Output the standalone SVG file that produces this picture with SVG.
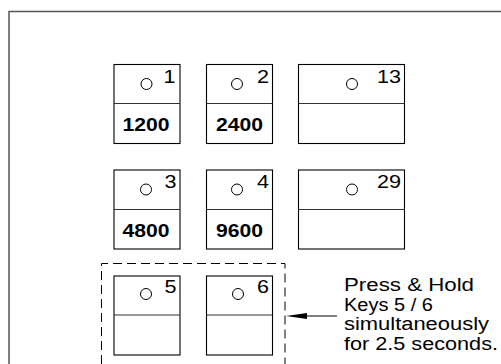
<svg xmlns="http://www.w3.org/2000/svg" width="501" height="364" viewBox="0 0 501 364">
<style>
.key{fill:#fff;stroke:#000;stroke-width:1.1}
.div{stroke:#333;stroke-width:1.1}
.led{fill:#fff;stroke:#000;stroke-width:1}
.num{font-family:"Liberation Sans",Arial,sans-serif;font-size:18.5px;fill:#000;text-anchor:end}
.lab{font-family:"Liberation Sans",Arial,sans-serif;font-size:18px;font-weight:bold;fill:#000;text-anchor:middle}
.note{font-family:"Liberation Sans",Arial,sans-serif;font-size:18.8px;fill:#000}
</style>
<rect width="501" height="364" fill="#fff"/>
<path d="M9,364 V11.5 H501" fill="none" stroke="#555" stroke-width="1.5"/>
<g id="key1">
<rect class="key" x="114" y="64.5" width="66" height="79"/>
<line class="div" x1="114" y1="103.5" x2="180" y2="103.5"/>
<circle class="led" cx="146.5" cy="84" r="5.5"/>
<text class="num" x="175.5" y="82.5" textLength="12" lengthAdjust="spacingAndGlyphs">1</text>
<text class="lab" x="146" y="131" textLength="47" lengthAdjust="spacingAndGlyphs">1200</text>
</g>
<g id="key2">
<rect class="key" x="206.5" y="64.5" width="66" height="79"/>
<line class="div" x1="206.5" y1="103.5" x2="272.5" y2="103.5"/>
<circle class="led" cx="237" cy="84" r="5.5"/>
<text class="num" x="269" y="82.5" textLength="12" lengthAdjust="spacingAndGlyphs">2</text>
<text class="lab" x="239.5" y="131" textLength="47" lengthAdjust="spacingAndGlyphs">2400</text>
</g>
<g id="key13">
<rect class="key" x="298.5" y="64.5" width="106" height="79"/>
<line class="div" x1="298.5" y1="103.5" x2="404.5" y2="103.5"/>
<circle class="led" cx="352" cy="84" r="5.5"/>
<text class="num" x="401" y="82.5" textLength="24" lengthAdjust="spacingAndGlyphs">13</text>
</g>
<g id="key3">
<rect class="key" x="114" y="170" width="66" height="79"/>
<line class="div" x1="114" y1="209.5" x2="180" y2="209.5"/>
<circle class="led" cx="146" cy="189.5" r="5.5"/>
<text class="num" x="176.5" y="188" textLength="12" lengthAdjust="spacingAndGlyphs">3</text>
<text class="lab" x="146" y="237" textLength="47" lengthAdjust="spacingAndGlyphs">4800</text>
</g>
<g id="key4">
<rect class="key" x="206.5" y="170" width="66" height="79"/>
<line class="div" x1="206.5" y1="209.5" x2="272.5" y2="209.5"/>
<circle class="led" cx="237" cy="189.5" r="5.5"/>
<text class="num" x="269" y="188" textLength="12" lengthAdjust="spacingAndGlyphs">4</text>
<text class="lab" x="239.5" y="237" textLength="47" lengthAdjust="spacingAndGlyphs">9600</text>
</g>
<g id="key29">
<rect class="key" x="298.5" y="170" width="106" height="79"/>
<line class="div" x1="298.5" y1="209.5" x2="404.5" y2="209.5"/>
<circle class="led" cx="352" cy="189.5" r="5.5"/>
<text class="num" x="401" y="188" textLength="24" lengthAdjust="spacingAndGlyphs">29</text>
</g>
<g id="key5">
<rect class="key" x="114" y="276" width="66" height="79"/>
<line class="div" x1="114" y1="315" x2="180" y2="315"/>
<circle class="led" cx="146" cy="294" r="5.5"/>
<text class="num" x="176.5" y="293" textLength="12" lengthAdjust="spacingAndGlyphs">5</text>
</g>
<g id="key6">
<rect class="key" x="206.5" y="276" width="66" height="79"/>
<line class="div" x1="206.5" y1="315" x2="272.5" y2="315"/>
<circle class="led" cx="238" cy="294" r="5.5"/>
<text class="num" x="269" y="293" textLength="12" lengthAdjust="spacingAndGlyphs">6</text>
</g>
<g id="group56">
<path d="M101.5,364 V263.5 H285 V364" fill="none" stroke="#000" stroke-width="1" stroke-dasharray="9 5"/>
</g>
<g id="connectors">
<line x1="337" y1="316" x2="300" y2="316" stroke="#000" stroke-width="1.1"/>
<polygon points="286,316 307,313 307,319" fill="#000"/>
</g>
<g id="note">
<text class="note" x="344" y="291" textLength="130" lengthAdjust="spacingAndGlyphs">Press &amp; Hold</text>
<text class="note" x="344" y="310.5" textLength="89" lengthAdjust="spacingAndGlyphs">Keys 5 / 6</text>
<text class="note" x="344" y="330" textLength="145" lengthAdjust="spacingAndGlyphs">simultaneously</text>
<text class="note" x="344" y="349.5" textLength="154" lengthAdjust="spacingAndGlyphs">for 2.5 seconds.</text>
</g>
</svg>
